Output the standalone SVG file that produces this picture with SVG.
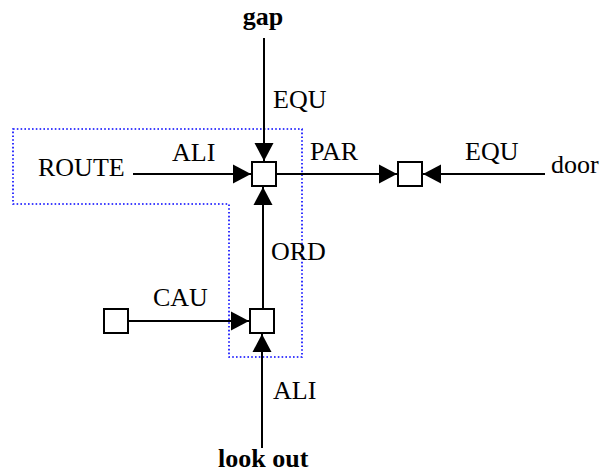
<svg xmlns="http://www.w3.org/2000/svg" width="600" height="473" viewBox="0 0 600 473">
<style>
text{font-family:'Liberation Serif','Times New Roman',Tinos,'DejaVu Serif',serif;font-size:26px;fill:#000}
.b{font-weight:bold}
.box{fill:#fff;stroke:#000;stroke-width:2}
.ln{stroke:#000;stroke-width:2;fill:none}
.grp{fill:none;stroke:#0000ff;stroke-width:1.6;stroke-dasharray:1.6 2.2}
</style>
<defs>
<marker id="ah" markerUnits="userSpaceOnUse" markerWidth="19" markerHeight="20" refX="18" refY="10" orient="auto">
<path d="M0,0.5 L18,10 L0,19.5 Z" fill="#000"/>
</marker>
</defs>
<rect width="600" height="473" fill="#fff"/>
<path class="grp" d="M13,129 H302 V357 H229 V204 H13 Z"/>
<g id="connectors">
<line class="ln" x1="264" y1="38" x2="264" y2="161" marker-end="url(#ah)"/>
<line class="ln" x1="133" y1="174" x2="251" y2="174" marker-end="url(#ah)"/>
<line class="ln" x1="277" y1="174" x2="397" y2="174" marker-end="url(#ah)"/>
<line class="ln" x1="545" y1="174" x2="423" y2="174" marker-end="url(#ah)"/>
<line class="ln" x1="263" y1="308" x2="263" y2="187" marker-end="url(#ah)"/>
<line class="ln" x1="262" y1="448" x2="262" y2="334" marker-end="url(#ah)"/>
<line class="ln" x1="129" y1="321" x2="249" y2="321" marker-end="url(#ah)"/>
<text x="273" y="108" font-family="Liberation Serif, serif">EQU</text>
<text x="172" y="161" font-family="Liberation Serif, serif">ALI</text>
<text x="310" y="160" font-family="Liberation Serif, serif">PAR</text>
<text x="465" y="160" font-family="Liberation Serif, serif">EQU</text>
<text x="271" y="260" font-family="Liberation Serif, serif">ORD</text>
<text x="153" y="306" font-family="Liberation Serif, serif">CAU</text>
<text x="273" y="399" font-family="Liberation Serif, serif">ALI</text>
</g>
<g id="gap"><text class="b" x="263" y="25" text-anchor="middle" font-family="Liberation Serif, serif">gap</text></g>
<g id="route"><text x="38" y="176" font-family="Liberation Serif, serif">ROUTE</text></g>
<g id="door"><text x="551" y="173" font-family="Liberation Serif, serif">door</text></g>
<g id="lookout"><text class="b" x="218" y="467" font-family="Liberation Serif, serif">look out</text></g>
<g id="n1"><rect class="box" x="252" y="162" width="24" height="24"/></g>
<g id="n2"><rect class="box" x="398" y="162" width="24" height="24"/></g>
<g id="n3"><rect class="box" x="250" y="309" width="24" height="24"/></g>
<g id="n4"><rect class="box" x="104" y="309" width="24" height="24"/></g>
</svg>
